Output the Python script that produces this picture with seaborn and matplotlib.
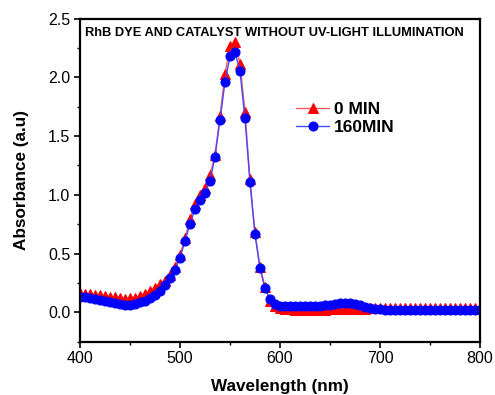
import numpy as np
import pandas as pd
import seaborn as sns
import matplotlib
matplotlib.use("Agg")
import matplotlib.pyplot as plt
from matplotlib.ticker import MultipleLocator

# Wavelength grid (nm)
wavelength = list(range(400, 801, 5))

# Absorbance at 0 min
abs_0min = [
    0.165, 0.160, 0.155, 0.150, 0.145, 0.140, 0.133, 0.126, 0.120, 0.117,
    0.118, 0.124, 0.137, 0.155, 0.178, 0.205, 0.238, 0.270, 0.315, 0.385,
    0.487, 0.630, 0.790, 0.918, 0.997, 1.054, 1.167, 1.338, 1.672, 2.024,
    2.264, 2.300, 2.117, 1.706, 1.131, 0.680, 0.388, 0.218, 0.100, 0.055,
    0.035, 0.028, 0.025, 0.022, 0.020, 0.020, 0.020, 0.020, 0.021, 0.023,
    0.026, 0.029, 0.031, 0.032, 0.031, 0.029, 0.028, 0.030, 0.033, 0.036,
    0.037, 0.037, 0.038, 0.037, 0.037, 0.036, 0.037, 0.037, 0.038, 0.037,
    0.037, 0.036, 0.037, 0.037, 0.037, 0.036, 0.037, 0.037, 0.036, 0.037,
    0.037,
]

# Absorbance at 160 min
abs_160min = [
    0.133, 0.128, 0.122, 0.115, 0.108, 0.100, 0.090, 0.080, 0.071, 0.065,
    0.066, 0.072, 0.084, 0.100, 0.120, 0.146, 0.180, 0.235, 0.292, 0.360,
    0.464, 0.604, 0.753, 0.876, 0.952, 1.017, 1.117, 1.323, 1.633, 1.961,
    2.180, 2.216, 2.052, 1.650, 1.105, 0.663, 0.374, 0.204, 0.110, 0.070,
    0.056, 0.052, 0.050, 0.050, 0.050, 0.050, 0.052, 0.054, 0.056, 0.060,
    0.065, 0.070, 0.075, 0.077, 0.075, 0.070, 0.060, 0.046, 0.036, 0.029,
    0.024, 0.023, 0.022, 0.022, 0.022, 0.022, 0.021, 0.022, 0.022, 0.022,
    0.022, 0.021, 0.022, 0.022, 0.022, 0.022, 0.021, 0.022, 0.022, 0.022,
    0.022,
]

series_labels = ["0 MIN", "160MIN"]
title_text = "RhB DYE AND CATALYST WITHOUT UV-LIGHT ILLUMINATION"

sns.set_style("ticks")
plt.rcParams["font.family"] = ["Liberation Sans", "DejaVu Sans"]
plt.rcParams["text.color"] = "black"
plt.rcParams["axes.labelcolor"] = "black"
plt.rcParams["xtick.color"] = "black"
plt.rcParams["ytick.color"] = "black"

fig = plt.figure(figsize=(4.95, 3.95), dpi=100)
ax = fig.add_axes([0.1616, 0.135, 0.808, 0.818])

df = pd.DataFrame({"wavelength": wavelength, "a0": abs_0min, "a160": abs_160min})

sns.lineplot(data=df, x="wavelength", y="a0", ax=ax, color="#ff5a5a", lw=1.0,
             marker="^", markersize=7, markerfacecolor="#ff0000",
             markeredgecolor="#ff0000", label=series_labels[0])
sns.lineplot(data=df, x="wavelength", y="a160", ax=ax, color="#4848ff", lw=1.0,
             marker="o", markersize=6.5, markerfacecolor="#0000ff",
             markeredgecolor="#0000ff", label=series_labels[1])

ax.set_xlim(400, 800)
ax.set_ylim(-0.25, 2.5)
ax.xaxis.set_major_locator(MultipleLocator(100))
ax.xaxis.set_minor_locator(MultipleLocator(50))
ax.yaxis.set_major_locator(MultipleLocator(0.5))
ax.yaxis.set_minor_locator(MultipleLocator(0.25))
ax.yaxis.set_major_formatter(matplotlib.ticker.FormatStrFormatter("%.1f"))

for side in ["top", "right", "bottom", "left"]:
    ax.spines[side].set_visible(True)
    ax.spines[side].set_linewidth(1.6)
    ax.spines[side].set_color("black")

ax.tick_params(axis="both", which="major", direction="out", length=4, width=1.2,
               labelsize=11.5, top=False, right=False, pad=3, colors="black")
ax.tick_params(axis="both", which="minor", direction="out", length=2.5, width=1.0,
               top=False, right=False, colors="black")

ax.set_xlabel("Wavelength (nm)", fontsize=12.3, fontweight="bold", labelpad=9,
              color="black")
ax.set_ylabel("Absorbance (a.u)", fontsize=12.3, fontweight="bold", labelpad=14,
              color="black")

ax.text(0.012, 0.975, title_text, transform=ax.transAxes, fontsize=9.3,
        fontweight="bold", ha="left", va="top", color="black")

leg = ax.legend(loc="upper left", bbox_to_anchor=(0.523, 0.765), frameon=False,
                prop={"weight": "bold", "size": 12.5}, handlelength=1.9,
                handletextpad=0.3, labelspacing=0.2, borderaxespad=0)
for t in leg.get_texts():
    t.set_color("black")

fig.savefig("out.png", dpi=100)
